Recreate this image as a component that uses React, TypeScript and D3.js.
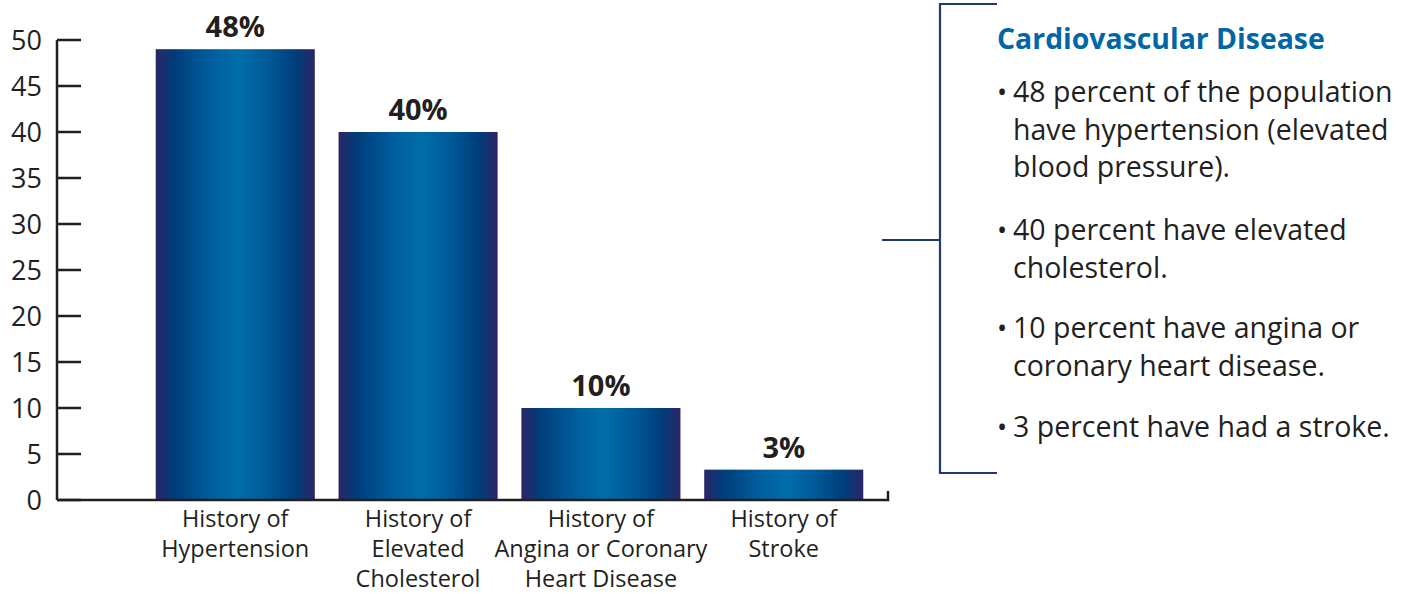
import React from "react";
import * as d3 from "d3";

const categories: string[][] = [
  ["History of", "Hypertension"],
  ["History of", "Elevated", "Cholesterol"],
  ["History of", "Angina or Coronary", "Heart Disease"],
  ["History of", "Stroke"],
];
const barValues: number[] = [49, 40, 10, 3.3];
const barLabels: string[] = ["48%", "40%", "10%", "3%"];
const yTicks: number[] = [0, 5, 10, 15, 20, 25, 30, 35, 40, 45, 50];
const panelTitle = "Cardiovascular Disease";
const bullets: string[][] = [
  ["48 percent of the population", "have hypertension (elevated", "blood pressure)."],
  ["40 percent have elevated", "cholesterol."],
  ["10 percent have angina or", "coronary heart disease."],
  ["3 percent have had a stroke."],
];

const W = 1408;
const H = 594;
const FONT = "'Open Sans', 'Noto Sans', sans-serif";
const AXIS = "#231f20";
const NAVY = "#1c3c6e";

export default function App() {
  const y = d3.scaleLinear().domain([0, 50]).range([500, 40]);
  const x = d3
    .scaleBand<number>()
    .domain(d3.range(categories.length))
    .range([57, 962])
    .paddingInner(0.13)
    .paddingOuter(0.54);
  const bw = x.bandwidth();

  const lineH = 37.7;
  const blockStarts = [102, 240, 338, 437];

  return (
    <svg
      width={W}
      height={H}
      style={{ position: "absolute", left: 0, top: 0, background: "#fff" }}
      fontFamily={FONT}
    >
      <defs>
        <linearGradient id="barGrad" x1="0" x2="1" y1="0" y2="0">
          <stop offset="0%" stopColor="#2b2565" />
          <stop offset="12%" stopColor="#003d7b" />
          <stop offset="35%" stopColor="#005f9e" />
          <stop offset="52%" stopColor="#006dab" />
          <stop offset="70%" stopColor="#005a98" />
          <stop offset="88%" stopColor="#003d7b" />
          <stop offset="100%" stopColor="#2b2565" />
        </linearGradient>
      </defs>

      {/* bars */}
      {barValues.map((v, i) => (
        <g key={i}>
          <rect
            x={x(i)!}
            y={y(v)}
            width={bw}
            height={y(0) - y(v)}
            fill="url(#barGrad)"
          />
          <text
            x={x(i)! + bw / 2}
            y={y(v) - 12}
            textAnchor="middle"
            fontWeight={700}
            fontSize={29}
            fill={AXIS}
          >
            {barLabels[i]}
          </text>
          {categories[i].map((line, j) => (
            <text
              key={j}
              x={x(i)! + bw / 2}
              y={527 + j * 30}
              textAnchor="middle"
              fontSize={23.5}
              fill={AXIS}
            >
              {line}
            </text>
          ))}
        </g>
      ))}

      {/* axes */}
      <line x1={57} x2={57} y1={y(50)} y2={y(0)} stroke={AXIS} strokeWidth={2.5} />
      <path
        d={`M57,${y(0)}H888V${y(0) - 9}`}
        fill="none"
        stroke={AXIS}
        strokeWidth={2.5}
      />
      {yTicks.map((t) => (
        <g key={t}>
          <line x1={57} x2={81} y1={y(t)} y2={y(t)} stroke={AXIS} strokeWidth={2.5} />
          <text
            x={42}
            y={y(t)}
            dy="0.36em"
            textAnchor="end"
            fontSize={27}
            fill={AXIS}
          >
            {t}
          </text>
        </g>
      ))}

      {/* bracket */}
      <path
        d="M997,4H940V473H997"
        fill="none"
        stroke={NAVY}
        strokeWidth={2.2}
      />
      <line x1={882} x2={940} y1={240} y2={240} stroke={NAVY} strokeWidth={2.2} />

      {/* panel text */}
      <text x={997} y={49} fontSize={28.4} fontWeight={700} fill="#0066a6">
        {panelTitle}
      </text>
      {bullets.map((b, i) => (
        <g key={i}>
          <text x={997} y={blockStarts[i]} fontSize={27} fill={AXIS}>
            •
          </text>
          {b.map((line, j) => (
            <text
              key={j}
              x={1013}
              y={blockStarts[i] + j * lineH}
              fontSize={28.5}
              fill={AXIS}
            >
              {line}
            </text>
          ))}
        </g>
      ))}
    </svg>
  );
}
